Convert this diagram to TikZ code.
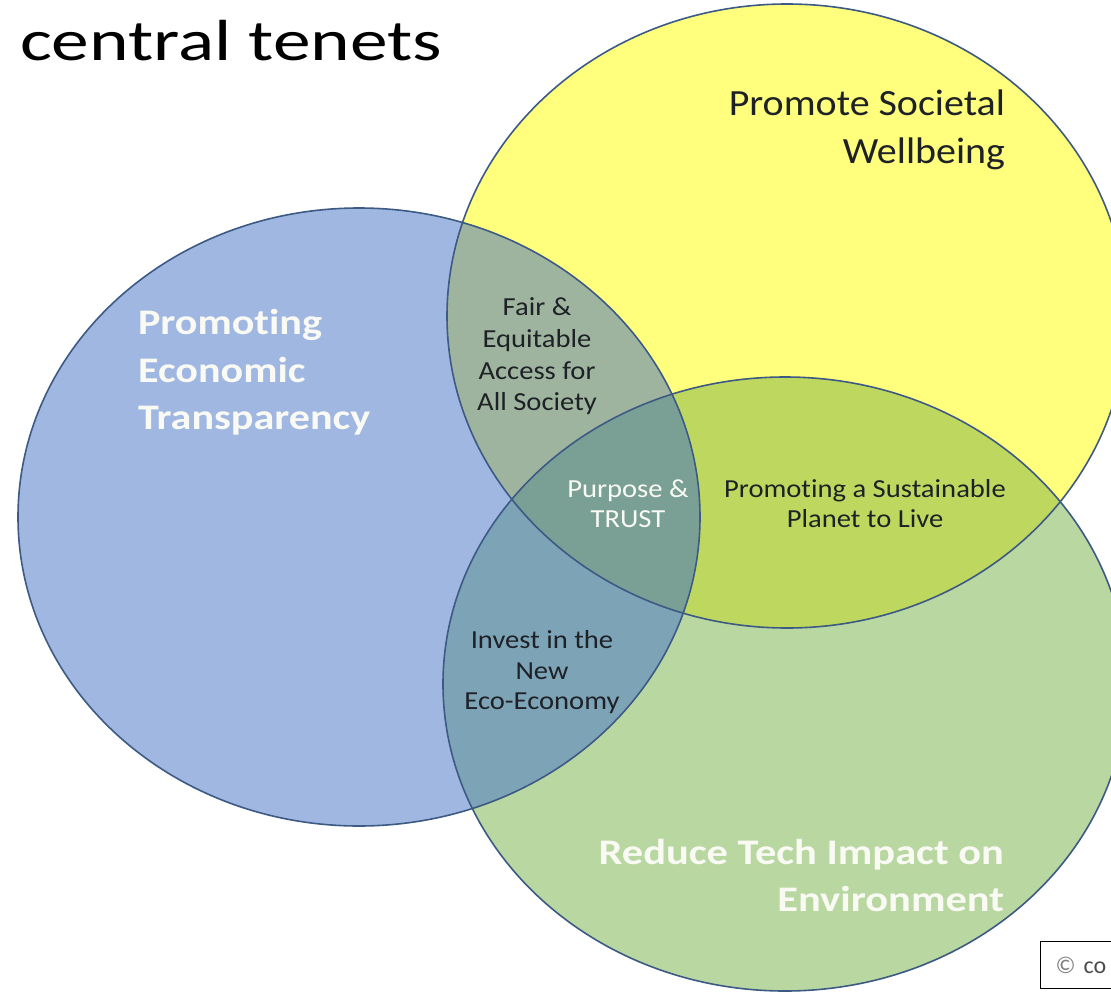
\documentclass[tikz,border=0pt]{standalone}
\usepackage{fontspec}
\setmainfont{Carlito}[Ligatures=NoCommon]
\usepackage{graphicx}
\newcommand{\hs}[2]{\scalebox{#1}[1]{#2}}
\definecolor{cBlue}{HTML}{A0B7E1}
\definecolor{cYel}{HTML}{FFFF7D}
\definecolor{cGrn}{HTML}{B9D7A0}
\definecolor{cBY}{HTML}{9EB49E}
\definecolor{cYG}{HTML}{BED75F}
\definecolor{cBG}{HTML}{7DA3B7}
\definecolor{cBYG}{HTML}{7AA096}
\definecolor{cLine}{HTML}{3D5A85}
\definecolor{cDark}{HTML}{1E2126}
\definecolor{cWhite}{HTML}{FAFAF5}
\tikzset{
  lbl/.style={inner sep=0pt, outer sep=0pt},
  smalltxt/.style={lbl, text=cDark, font=\fontsize{26}{30}\selectfont},
  smallwhite/.style={lbl, text=cWhite, font=\fontsize{26}{30}\selectfont},
  bigtxt/.style={lbl, text=cDark, font=\fontsize{37}{44}\selectfont},
  bigwhite/.style={lbl, text=cWhite, font=\fontsize{36}{44}\selectfont\bfseries},
  outline/.style={draw=cLine, line width=1.6pt},
}
\begin{document}
\begin{tikzpicture}[x=1pt,y=1pt]
\useasboundingbox (0,0) rectangle (1111,-993);
\fill[white] (0,0) rectangle (1111,-993);
\coordinate (cB) at (359,-517);
\coordinate (cY) at (787,-316);
\coordinate (cG) at (785,-684);
% base fills
\fill[cBlue] (cB) ellipse [x radius=341pt, y radius=309pt];
\fill[cYel] (cY) ellipse [x radius=340pt, y radius=312pt];
\fill[cGrn] (cG) ellipse [x radius=342pt, y radius=307pt];
\begin{scope}
  \clip (cY) ellipse [x radius=340pt, y radius=312pt];
  \fill[cYG] (cG) ellipse [x radius=342pt, y radius=307pt];
\end{scope}
\begin{scope}
  \clip (cB) ellipse [x radius=341pt, y radius=309pt];
  \fill[cBY] (cY) ellipse [x radius=340pt, y radius=312pt];
  \fill[cBG] (cG) ellipse [x radius=342pt, y radius=307pt];
  \clip (cY) ellipse [x radius=340pt, y radius=312pt];
  \fill[cBYG] (cG) ellipse [x radius=342pt, y radius=307pt];
\end{scope}
% outlines
\draw[outline] (cB) ellipse [x radius=341pt, y radius=309pt];
\draw[outline] (cY) ellipse [x radius=340pt, y radius=312pt];
\draw[outline] (cG) ellipse [x radius=342pt, y radius=307pt];
% title
\node (title) [lbl, anchor=base west, text=black, font=\fontsize{58}{60}\selectfont] at (20,-60) {\hs{1.3}{central tenets}};
% societal
\node (soc1) [bigtxt, anchor=base east] at (1005,-115) {\hs{1.08}{Promote Societal}};
\node (soc2) [bigtxt, anchor=base east] at (1005,-163) {\hs{1.08}{Wellbeing}};
% economic
\node (eco1) [bigwhite, anchor=base west] at (138,-334) {\hs{1.17}{Promoting}};
\node (eco2) [bigwhite, anchor=base west] at (138,-382) {\hs{1.17}{Economic}};
\node (eco3) [bigwhite, anchor=base west] at (138,-429) {\hs{1.17}{Transparency}};
% fair
\node (fair1) [smalltxt, anchor=base] at (537,-315) {\hs{1.1}{Fair \&}};
\node (fair2) [smalltxt, anchor=base] at (537,-347) {\hs{1.1}{Equitable}};
\node (fair3) [smalltxt, anchor=base] at (537,-379) {\hs{1.1}{Access for}};
\node (fair4) [smalltxt, anchor=base] at (537,-410) {\hs{1.1}{All Society}};
% purpose
\node (pur1) [smallwhite, anchor=base] at (628,-497) {\hs{1.1}{Purpose \&}};
\node (pur2) [smallwhite, anchor=base] at (628,-527) {\hs{1.1}{TRUST}};
% planet
\node (pla1) [smalltxt, anchor=base] at (865,-497) {\hs{1.1}{Promoting a Sustainable}};
\node (pla2) [smalltxt, anchor=base] at (865,-527) {\hs{1.1}{Planet to Live}};
% invest
\node (inv1) [smalltxt, anchor=base] at (542,-648) {\hs{1.1}{Invest in the}};
\node (inv2) [smalltxt, anchor=base] at (542,-679) {\hs{1.1}{New}};
\node (inv3) [smalltxt, anchor=base] at (542,-709) {\hs{1.1}{Eco-Economy}};
% reduce
\node (red1) [bigwhite, anchor=base east] at (1004,-864) {\hs{1.18}{Reduce Tech Impact on}};
\node (red2) [bigwhite, anchor=base east] at (1004,-911) {\hs{1.18}{Environment}};
% copyright box
\node (copy) [draw=black, line width=1.4pt, anchor=north west, minimum width=100pt, minimum height=47pt,
  inner xsep=14pt, text width=70pt, align=left, font=\fontsize{24}{26}\selectfont, text=black!70] at (1040,-941) {\textcolor{black!50}{©} co};
\end{tikzpicture}
\end{document}
